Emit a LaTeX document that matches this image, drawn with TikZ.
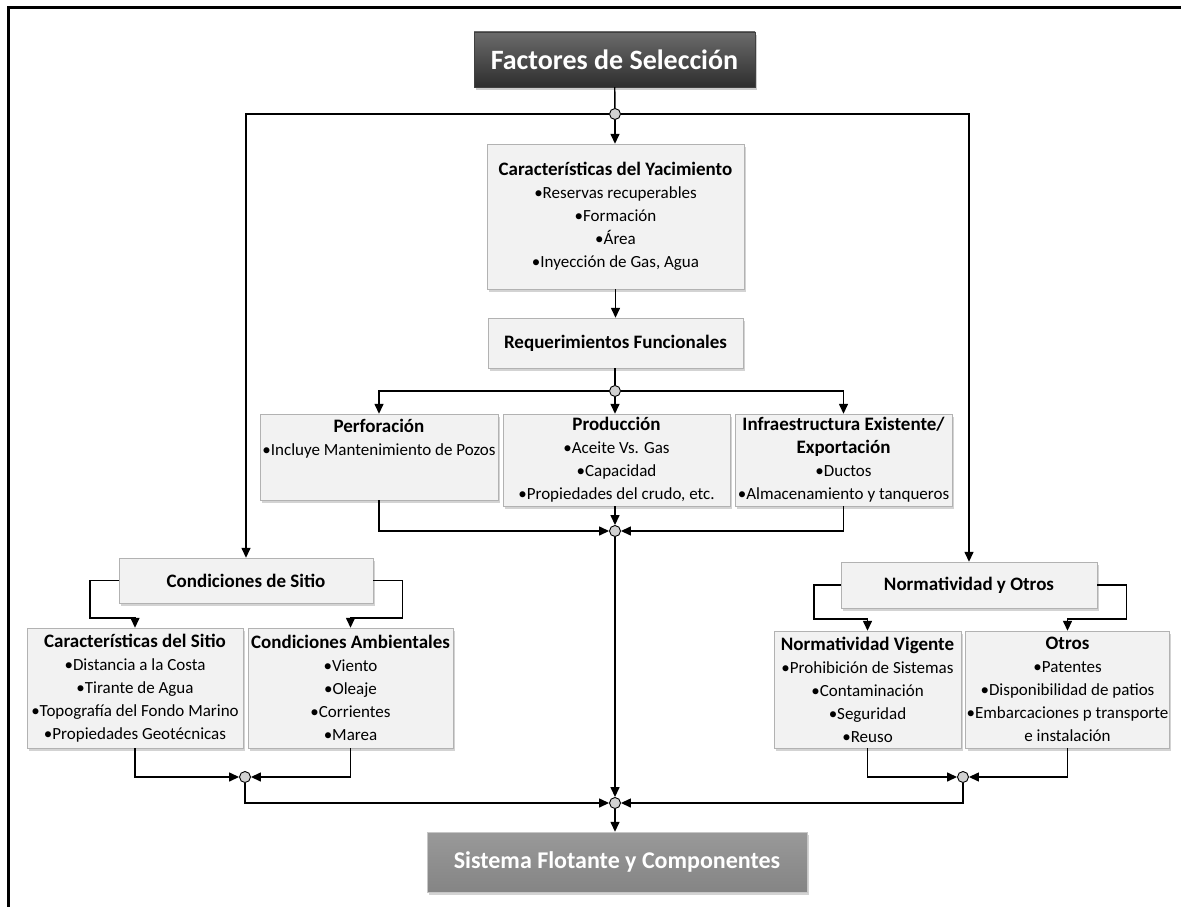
\documentclass[tikz,border=0pt]{standalone}
\usepackage{fontspec}
\setmainfont{Carlito}
\usetikzlibrary{arrows.meta,positioning,shadows,calc}

\newcommand{\boxhead}[1]{{\fontsize{19}{23}\selectfont\bfseries #1}}

\begin{document}
\begin{tikzpicture}[
  x=1pt, y=-1pt,
  every node/.style={font=\fontsize{17}{23}\selectfont},
  box/.style={draw=gray!60, fill=gray!10, align=center, inner sep=1pt,
    drop shadow={opacity=0.35, shadow xshift=2pt, shadow yshift=-3pt}},
  darkbox/.style={draw=black!75, top color=black!58, bottom color=black!82, text=white,
    font=\fontsize{28}{34}\selectfont\bfseries,
    drop shadow={opacity=0.4, shadow xshift=2pt, shadow yshift=-3pt}},
  midbox/.style={draw=gray!45, top color=black!40, bottom color=black!48, text=white,
    font=\fontsize{24}{30}\selectfont\bfseries,
    drop shadow={opacity=0.35, shadow xshift=2pt, shadow yshift=-3pt}},
  junc/.style={circle, draw, fill=gray!35, line width=0.9pt, minimum size=11pt, inner sep=0pt},
  wire/.style={line width=1.4pt},
  wirearr/.style={wire, -{Triangle[length=10pt, width=9pt]}},
]
\useasboundingbox (0,0) rectangle (1181,907);

%% ── Frame ────────────────────────────────────────────────────────────────
\draw[line width=3pt] (8,907) -- (8,8) -- (1181,8);

%% ── Top column ───────────────────────────────────────────────────────────
\node[darkbox, minimum width=281pt, minimum height=55pt] (title) at (614.5,59.5) {Factores de Selección};

\node[box, minimum width=257pt, minimum height=145pt] (yac) at (615.5,216.5)
  {\boxhead{Características del Yacimiento}\\•Reservas recuperables\\•Formación\\•Área\\•Inyección de Gas, Agua};
\node[box, minimum width=255pt, minimum height=50pt] (req) at (615.5,343)
  {\boxhead{Requerimientos Funcionales}};

%% ── Functional requirements row ──────────────────────────────────────────
\node[box, minimum width=238pt, minimum height=86pt] (perf) at (379,457) {};
\node[align=center, anchor=north, inner sep=2pt] (perf-t) at ([yshift=-3pt]perf.north)
  {\boxhead{Perforación}\\•Incluye Mantenimiento de Pozos};
\node[box, minimum width=227pt, minimum height=92pt] (prod) at (616.5,460)
  {\boxhead{Producción}\\•Aceite Vs. Gas\\•Capacidad\\•Propiedades del crudo, etc.};
\node[box, minimum width=217pt, minimum height=92pt] (infra) at (843.5,460)
  {\boxhead{Infraestructura Existente/}\\\boxhead{Exportación}\\•Ductos\\•Almacenamiento y tanqueros};

%% ── Side branches ────────────────────────────────────────────────────────
\node[box, minimum width=254pt, minimum height=45pt] (cond) at (246,580.5) {\boxhead{Condiciones de Sitio}};
\node[box, minimum width=256pt, minimum height=46pt] (norm) at (969,585) {\boxhead{Normatividad y Otros}};

\node[box, minimum width=216pt, minimum height=120pt] (caract) at (135,688)
  {\boxhead{Características del Sitio}\\•Distancia a la Costa\\•Tirante de Agua\\•Topografía del Fondo Marino\\•Propiedades Geotécnicas};
\node[box, minimum width=205pt, minimum height=120pt] (amb) at (350.5,688)
  {\boxhead{Condiciones Ambientales}\\•Viento\\•Oleaje\\•Corrientes\\•Marea};
\node[box, minimum width=187pt, minimum height=117pt] (nv) at (867.5,689.5)
  {\boxhead{Normatividad Vigente}\\•Prohibición de Sistemas\\•Contaminación\\•Seguridad\\•Reuso};
\node[box, minimum width=203pt, minimum height=117pt] (otros) at (1067.5,689.5)
  {\boxhead{Otros}\\•Patentes\\•Disponibilidad de patios\\•Embarcaciones p transporte\\e instalación};

\node[midbox, minimum width=380pt, minimum height=60pt] (sist) at (617,862) {Sistema Flotante y Componentes};

%% ── Junctions ────────────────────────────────────────────────────────────
\node[junc] (j1) at (615,114) {};
\node[junc] (j2) at (615,391) {};
\node[junc] (j3) at (615,531) {};
\node[junc] (jl) at (245,777) {};
\node[junc] (jr) at (963,777) {};
\node[junc] (jc) at (615,803) {};

%% ── Connectors ───────────────────────────────────────────────────────────
\draw[wire] (title) -- (j1);
\draw[wirearr] (j1) -- (j1 |- yac.north);
\draw[wirearr] (j1) -| (cond);
\draw[wirearr] (j1) -| (norm);
\draw[wirearr] (yac.south -| req) -- (req);
\draw[wire] (req.south -| j2) -- (j2);

\draw[wirearr] (j2) -| (perf);
\draw[wirearr] (j2) -- (j2 |- prod.north);
\draw[wirearr] (j2) -| (infra);

\draw[wirearr] (perf) |- (j3);
\draw[wirearr] (prod.south -| j3) -- (j3);
\draw[wirearr] (infra) |- (j3);
\draw[wirearr] (j3) -- (jc);

%% brackets under the side boxes
\draw[wirearr] (cond.west) -- ++(-29,0) |- ([yshift=10pt]caract.north) -- (caract.north);
\draw[wirearr] (cond.east) -- ++(29,0) |- ([yshift=10pt]amb.north) -- (amb.north);
\draw[wirearr] (norm.west) -- ++(-27,0) |- ([yshift=12pt]nv.north) -- (nv.north);
\draw[wirearr] (norm.east) -- ++(29,0) |- ([yshift=12pt]otros.north) -- (otros.north);

%% collecting lines
\draw[wirearr] (caract) |- (jl);
\draw[wirearr] (amb) |- (jl);
\draw[wirearr] (nv) |- (jr);
\draw[wirearr] (otros) |- (jr);
\draw[wirearr] (jl) |- (jc);
\draw[wirearr] (jr) |- (jc);
\draw[wirearr] (jc) -- (jc |- sist.north);

\end{tikzpicture}
\end{document}
